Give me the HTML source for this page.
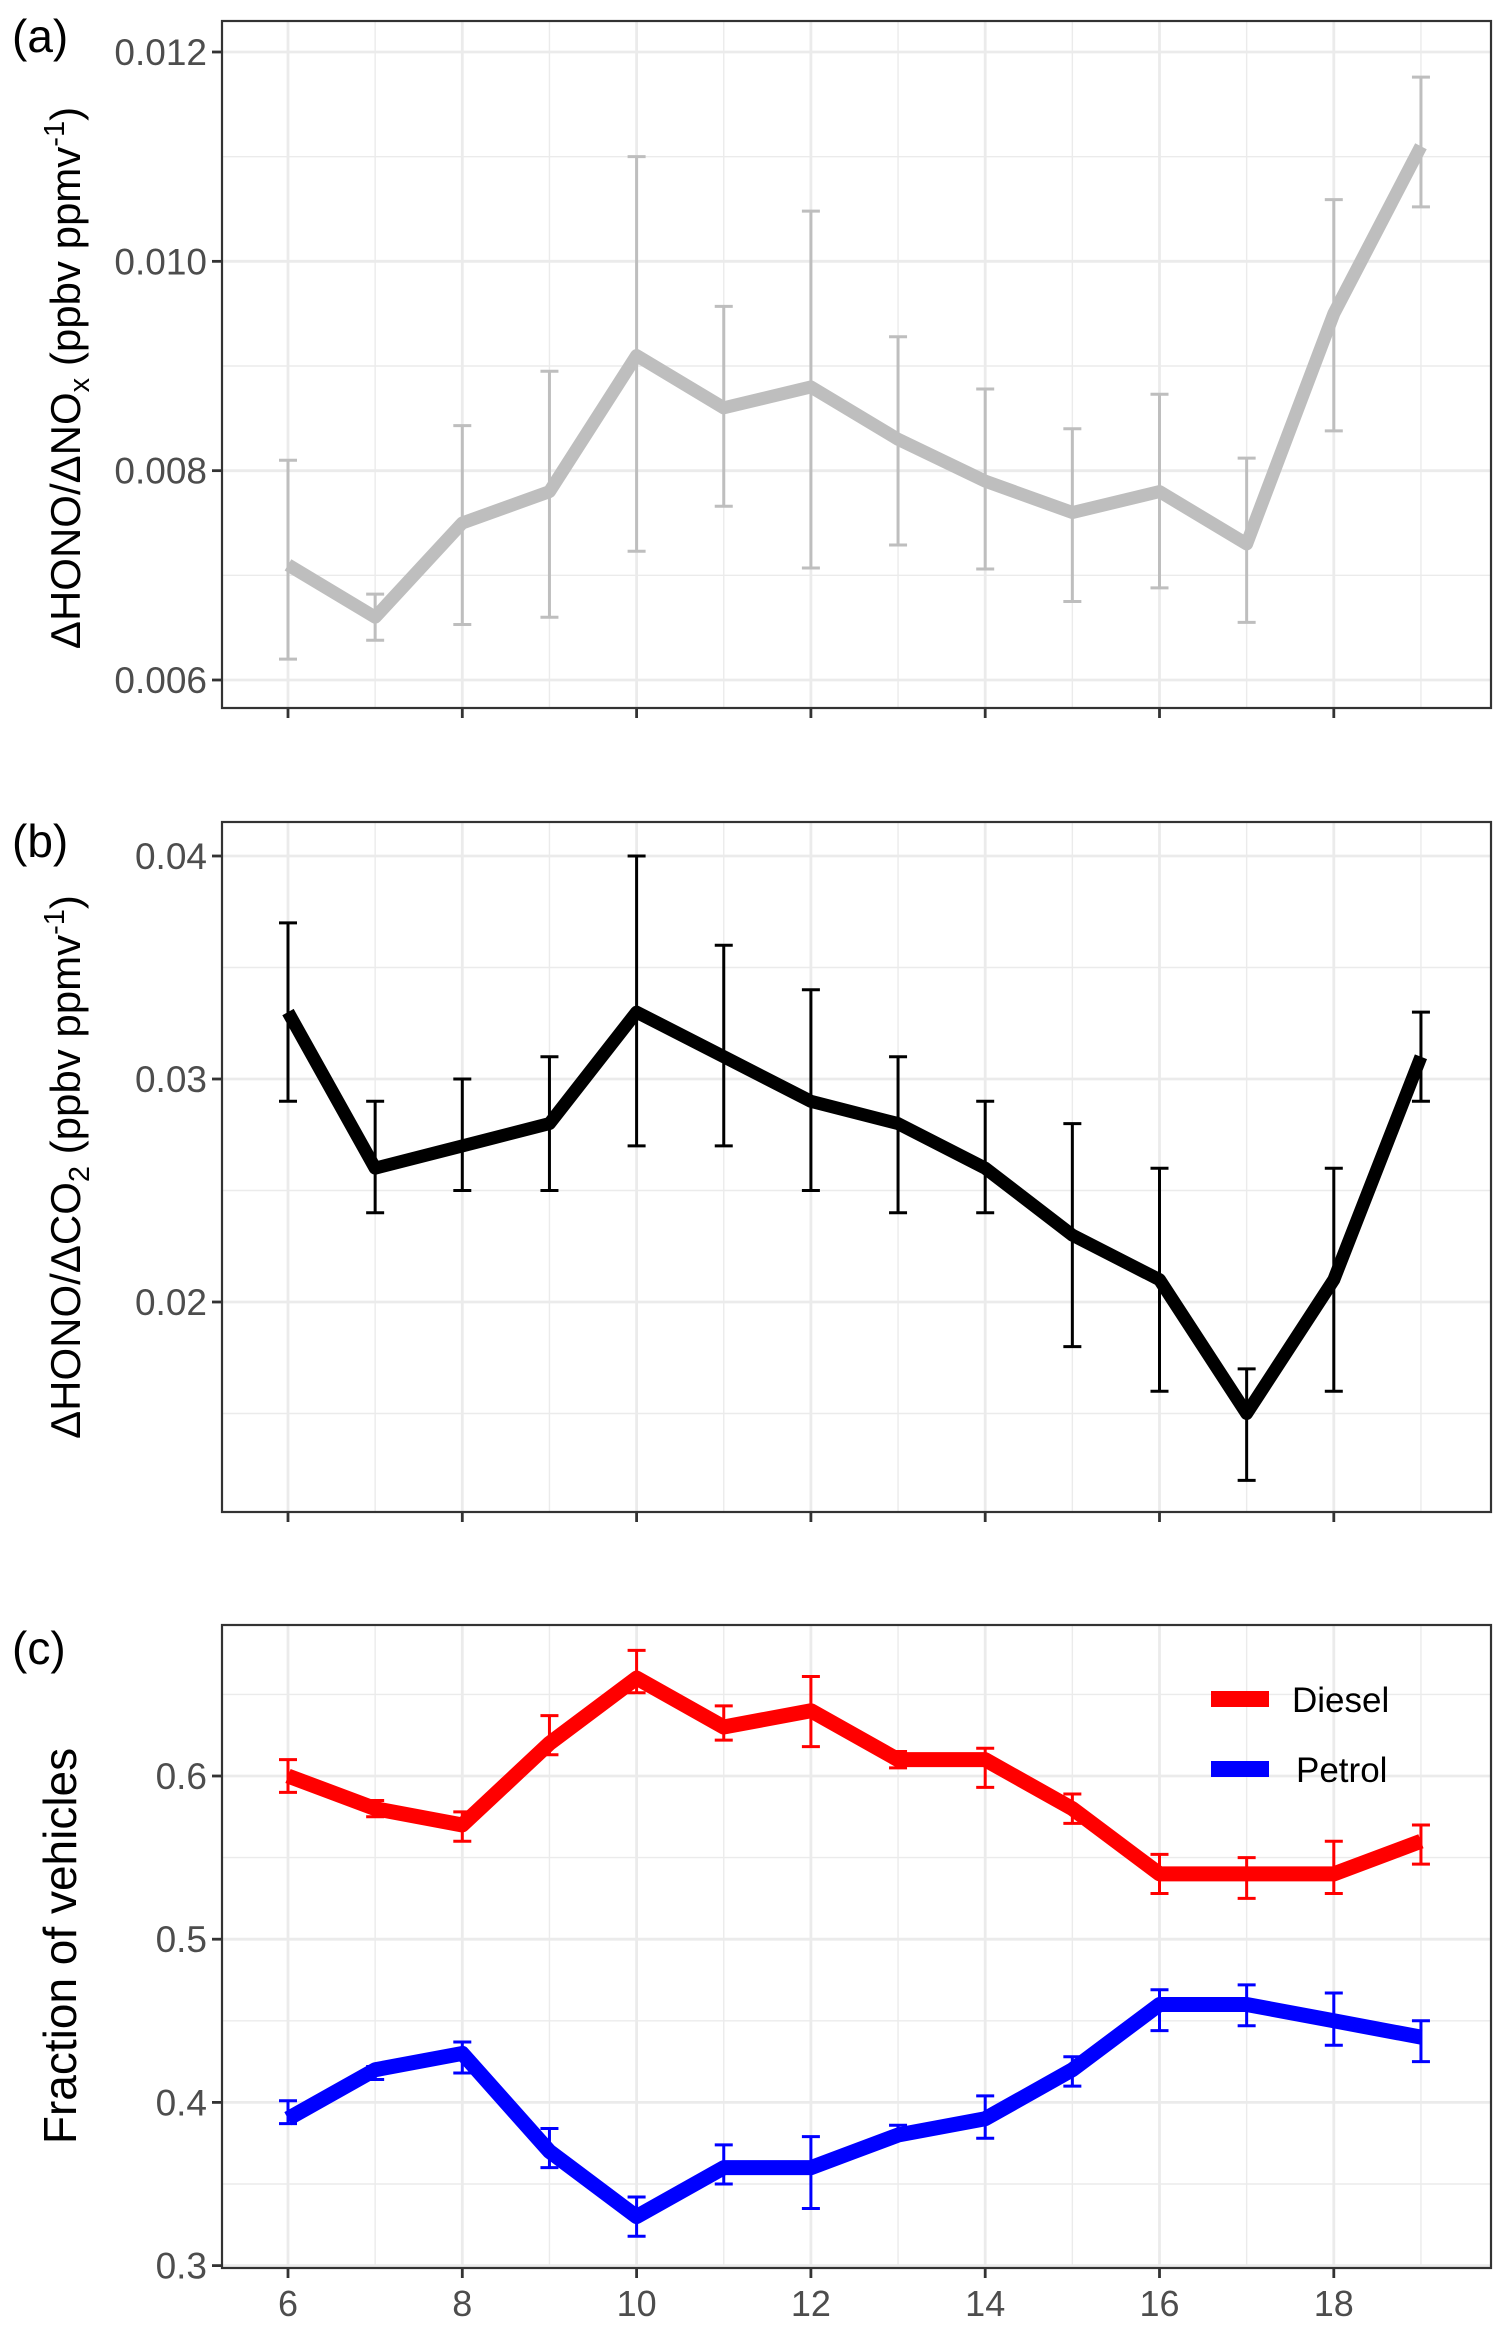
<!DOCTYPE html>
<html><head><meta charset="utf-8"><style>
html,body{margin:0;padding:0;background:#fff;}
svg{display:block;font-family:"Liberation Sans",sans-serif;}
</style></head><body>
<svg id="chart" width="1506" height="2330" viewBox="0 0 1506 2330"></svg>
<script>
const hours=[6,7,8,9,10,11,12,13,14,15,16,17,18,19];
const xTickLabels=[6,8,10,12,14,16,18];
const nox=[0.0071,0.0066,0.0075,0.0078,0.0091,0.0086,0.0088,0.0083,0.0079,0.0076,0.0078,0.0073,0.0095,0.0111];
const noxLo=[0.0062,0.00638,0.00653,0.0066,0.00723,0.00766,0.00707,0.00729,0.00706,0.00675,0.00688,0.00655,0.00838,0.01052];
const noxHi=[0.0081,0.00682,0.00843,0.00895,0.0110,0.00957,0.01048,0.00928,0.00878,0.0084,0.00873,0.00812,0.01059,0.01176];
const noxTicks=[0.006,0.008,0.010,0.012];
const co2=[0.033,0.026,0.027,0.028,0.033,0.031,0.029,0.028,0.026,0.023,0.021,0.015,0.021,0.031];
const co2Lo=[0.029,0.024,0.025,0.025,0.027,0.027,0.025,0.024,0.024,0.018,0.016,0.012,0.016,0.029];
const co2Hi=[0.037,0.029,0.030,0.031,0.040,0.036,0.034,0.031,0.029,0.028,0.026,0.017,0.026,0.033];
const co2Ticks=[0.02,0.03,0.04];
const diesel=[0.60,0.58,0.57,0.62,0.66,0.63,0.64,0.61,0.61,0.58,0.54,0.54,0.54,0.56];
const dieselLo=[0.59,0.575,0.56,0.613,0.651,0.622,0.618,0.605,0.593,0.571,0.528,0.525,0.528,0.546];
const dieselHi=[0.61,0.585,0.578,0.637,0.677,0.643,0.661,0.615,0.617,0.589,0.552,0.55,0.56,0.57];
const petrol=[0.39,0.42,0.43,0.37,0.33,0.36,0.36,0.38,0.39,0.42,0.46,0.46,0.45,0.44];
const petrolLo=[0.387,0.414,0.418,0.36,0.318,0.35,0.335,0.378,0.378,0.41,0.444,0.447,0.435,0.425];
const petrolHi=[0.401,0.422,0.437,0.384,0.342,0.374,0.379,0.386,0.404,0.428,0.469,0.472,0.467,0.45];
const fracTicks=[0.3,0.4,0.5,0.6];

const svg=document.getElementById('chart');
const NS='http://www.w3.org/2000/svg';
function mk(tag,attrs,parent){const e=document.createElementNS(NS,tag);for(const k in attrs)e.setAttribute(k,attrs[k]);(parent||svg).appendChild(e);return e;}
const L=222,R=1491;
const xs=h=>288+(h-6)*87.15;

function panel(name,top,bot,yv,vRef,yRef,ticks,minors,fmt,showX){
  const y=v=>yRef+(v-vRef)*yv;
  const g=mk('g',{});
  
  
  minors.forEach(v=>{const l=mk('line',{x1:L,x2:R,y1:y(v),y2:y(v),stroke:'#ebebeb','stroke-width':1.4},g);});
  hours.forEach(h=>{if(h%2){const l=mk('line',{x1:xs(h),x2:xs(h),y1:top,y2:bot,stroke:'#ebebeb','stroke-width':1.4},g);}});
  ticks.forEach(v=>{const l=mk('line',{x1:L,x2:R,y1:y(v),y2:y(v),stroke:'#ebebeb','stroke-width':2.8},g);
    const t=mk('line',{x1:L-10,x2:L,y1:y(v),y2:y(v),stroke:'#333','stroke-width':2.8},g);
    const tx=mk('text',{x:L-15,y:y(v)+13,'text-anchor':'end','font-size':37,fill:'#4d4d4d'},g);tx.textContent=fmt(v);});
  xTickLabels.forEach(h=>{const l=mk('line',{x1:xs(h),x2:xs(h),y1:top,y2:bot,stroke:'#ebebeb','stroke-width':2.8},g);
    const t=mk('line',{x1:xs(h),x2:xs(h),y1:bot,y2:bot+10,stroke:'#333','stroke-width':2.8},g);
    if(showX){const tx=mk('text',{x:xs(h),y:bot+48,'text-anchor':'middle','font-size':36,fill:'#4d4d4d'},g);tx.textContent=h;}});
  return {g,y};
}
function series(g,y,vals,lo,hi,color,lw,name){
  hours.forEach((h,i)=>{const e=mk('path',{d:`M${xs(h)-9},${y(hi[i])}H${xs(h)+9}M${xs(h)},${y(hi[i])}V${y(lo[i])}M${xs(h)-9},${y(lo[i])}H${xs(h)+9}`,stroke:color,'stroke-width':3,fill:'none'},g);});
  const p=mk('polyline',{points:hours.map((h,i)=>xs(h)+','+y(vals[i])).join(' '),stroke:color,'stroke-width':lw,fill:'none','stroke-linejoin':'round'},g);
  
}
function frame(top,bot,name){const r=mk('rect',{x:L,y:top,width:R-L,height:bot-top,fill:'none',stroke:'#333','stroke-width':2.2});}
function label(x,y,txt,name,size){const t=mk('text',{x:x,y:y,'font-size':size||46,fill:'#000'});t.textContent=txt;return t;}

// Panel a
let A=panel('panel-a',21,708,-(680-52)/0.006,0.012,52,noxTicks,[0.007,0.009,0.011],v=>v.toFixed(3),false);
series(A.g,A.y,nox,noxLo,noxHi,'#bebebe',13,'nox-ratio');
frame(21,708,'panel-a-frame');
label(12,52,'(a)','panel-a-label');
let ta=mk('text',{transform:'translate(80,378) rotate(-90)','text-anchor':'middle','font-size':42,fill:'#000'});
ta.innerHTML='ΔHONO/ΔNO<tspan font-size="29" dy="9">x</tspan><tspan dy="-9"> (ppbv ppmv</tspan><tspan font-size="29" dy="-16">-1</tspan><tspan dy="16">)</tspan>';


// Panel b
let B=panel('panel-b',822,1512,-22300,0.04,856,co2Ticks,[0.015,0.025,0.035],v=>v.toFixed(2),false);
series(B.g,B.y,co2,co2Lo,co2Hi,'#000',13,'co2-ratio');
frame(822,1512,'panel-b-frame');
label(12,857,'(b)','panel-b-label');
let tb=mk('text',{transform:'translate(80,1167) rotate(-90)','text-anchor':'middle','font-size':42,fill:'#000'});
tb.innerHTML='ΔHONO/ΔCO<tspan font-size="29" dy="9">2</tspan><tspan dy="-9"> (ppbv ppmv</tspan><tspan font-size="29" dy="-16">-1</tspan><tspan dy="16">)</tspan>';


// Panel c
let C=panel('panel-c',1625,2268,-1632,0.6,1776,fracTicks,[0.35,0.45,0.55,0.65],v=>v.toFixed(1),true);
series(C.g,C.y,diesel,dieselLo,dieselHi,'#ff0000',15,'diesel');
series(C.g,C.y,petrol,petrolLo,petrolHi,'#0000ff',15,'petrol');
frame(1625,2268,'panel-c-frame');
label(12,1664,'(c)','panel-c-label');
let tc=mk('text',{transform:'translate(76,1946) rotate(-90)','text-anchor':'middle','font-size':46,fill:'#000'});
tc.textContent='Fraction of vehicles';
// legend
const lg=mk('g',{});
const k1=mk('rect',{x:1211,y:1691,width:58,height:16,fill:'#ff0000'},lg);
const k2=mk('rect',{x:1211,y:1761,width:58,height:16,fill:'#0000ff'},lg);
const t1=mk('text',{x:1292,y:1712,'font-size':35,fill:'#000'},lg);t1.textContent='Diesel';
const t2=mk('text',{x:1296,y:1782,'font-size':35,fill:'#000'},lg);t2.textContent='Petrol';
</script>
</body></html>
